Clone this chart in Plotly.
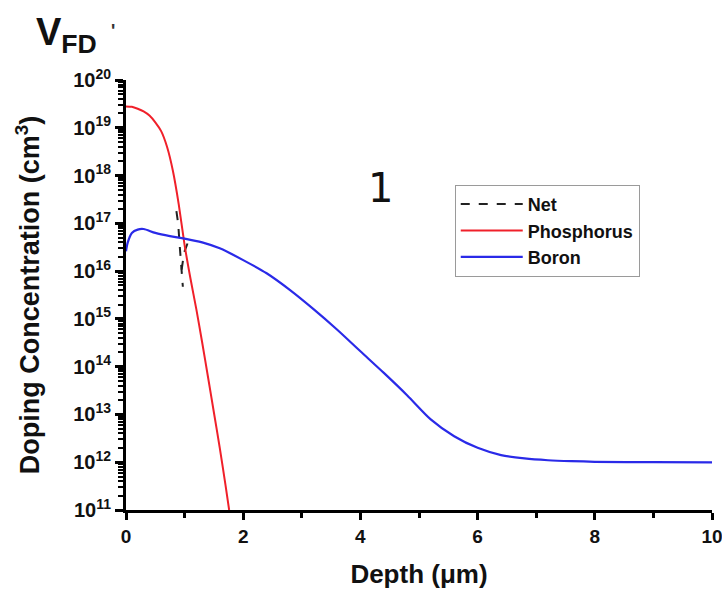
import plotly.graph_objects as go

# ---- data ----
phos_depth = [0, 0.1, 0.2, 0.3, 0.4, 0.5, 0.6, 0.7, 0.8, 0.9, 1.0, 1.1, 1.2, 1.3, 1.4, 1.5, 1.6, 1.7, 1.76]
phos_conc = [2.8e19, 2.75e19, 2.5e19, 2.2e19, 1.8e19, 1.3e19, 8.5e18, 4.0e18, 1.26e18, 2.5e17,
             3.5e16, 7.0e15, 1.6e15, 3.2e14, 6.0e13, 1.1e13, 2.0e12, 3.2e11, 1.0e11]

boron_depth = [0, 0.03, 0.1, 0.2, 0.3, 0.5, 0.75, 1.0, 1.3, 1.6, 2.0, 2.4, 2.8, 3.2, 3.6, 4.0,
               4.4, 4.8, 5.2, 5.6, 6.0, 6.4, 6.8, 7.2, 7.6, 8.0, 9.0, 10.0]
boron_conc = [2.6e16, 4.0e16, 6.3e16, 7.4e16, 7.6e16, 6.3e16, 5.4e16, 4.8e16, 4.0e16, 3.0e16,
              1.7e16, 9.0e15, 4.0e15, 1.6e15, 6.0e14, 2.1e14, 7.4e13, 2.5e13, 7.9e12, 3.5e12,
              2.0e12, 1.41e12, 1.2e12, 1.1e12, 1.05e12, 1.02e12, 1.0e12, 0.99e12]

net_depth = [0.86, 0.89, 0.92, 0.95, 0.97, None, 0.95, 0.99, 1.05, 1.15]
net_conc = [1.8e17, 1.0e17, 3.0e16, 8.0e15, 4.7e15, None, 1.07e16, 2.4e16, 3.8e16, 4.5e16]

y_tick_exps = [11, 12, 13, 14, 15, 16, 17, 18, 19, 20]
x_tick_vals = [0, 2, 4, 6, 8, 10]

FONT = "Liberation Sans, Arial, sans-serif"

fig = go.Figure()
fig.add_trace(go.Scatter(x=net_depth, y=net_conc, mode="lines", name="<b>Net</b>",
                         line=dict(color="#222222", width=2, dash="dash"),
                         connectgaps=False))
fig.add_trace(go.Scatter(x=phos_depth, y=phos_conc, mode="lines", name="<b>Phosphorus</b>",
                         line=dict(color="#f0202a", width=2, shape="spline", smoothing=0.6)))
fig.add_trace(go.Scatter(x=boron_depth, y=boron_conc, mode="lines", name="<b>Boron</b>",
                         line=dict(color="#2a2ae8", width=2.2, shape="spline", smoothing=0.8)))

fig.update_layout(
    width=722, height=592,
    margin=dict(l=126, r=10, t=80, b=82),
    paper_bgcolor="white", plot_bgcolor="white",
    font=dict(family=FONT, color="#111111"),
    showlegend=True,
    legend=dict(x=0.561, y=0.756, xanchor="left", yanchor="top",
                bordercolor="#9a9a9a", borderwidth=1, bgcolor="white",
                font=dict(size=18, family=FONT, color="#111111"),
                tracegroupgap=0, itemwidth=62),
    xaxis=dict(range=[0, 10], tickvals=x_tick_vals, automargin=False,
               ticktext=[f"<b>{v}</b>" for v in x_tick_vals],
               ticklabeloverflow="allow",
               showgrid=False, zeroline=False,
               showline=True, linecolor="black", linewidth=2.5,
               ticks="outside", ticklen=7, tickwidth=2.5, tickcolor="black",
               minor=dict(ticks="outside", dtick=1, ticklen=5, tickwidth=2.5, tickcolor="black"),
               tickfont=dict(size=19, family=FONT),
               title=dict(text="<b>Depth (μm)</b>", font=dict(size=26, family=FONT), standoff=20)),
    yaxis=dict(type="log", range=[11, 20], automargin=False,
               tickvals=[float(10.0 ** e) for e in y_tick_exps],
               ticktext=[f"<b>10<sup>{e}</sup></b>" for e in y_tick_exps],
               showgrid=False, zeroline=False,
               showline=True, linecolor="black", linewidth=3,
               ticks="outside", ticklen=8, tickwidth=3, tickcolor="black",
               minor=dict(ticks="outside", dtick="D1", ticklen=5, tickwidth=2, tickcolor="black"),
               tickfont=dict(size=20, family=FONT),
               title=dict(text="<b>Doping Concentration (cm<sup>3</sup>)</b>",
                          font=dict(size=27, family=FONT), standoff=26)),
)

fig.add_annotation(xref="paper", yref="paper", x=-0.157, y=1.165, xanchor="left", yanchor="top",
                   text="<b>V<sub>FD</sub></b>", showarrow=False,
                   font=dict(size=38, family=FONT, color="#111111"))
fig.add_annotation(xref="paper", yref="paper", x=-0.022, y=1.115, xanchor="center", yanchor="middle",
                   text="<b>'</b>", showarrow=False,
                   font=dict(size=18, family=FONT, color="#333333"))
fig.add_annotation(xref="x", yref="paper", x=4.34, y=0.748, xanchor="center", yanchor="middle",
                   text="1", showarrow=False,
                   font=dict(size=40, family="DejaVu Sans", color="#111111"))

fig.write_html("out.html", config={"displayModeBar": False},
               post_script="document.body.style.margin='0';")
